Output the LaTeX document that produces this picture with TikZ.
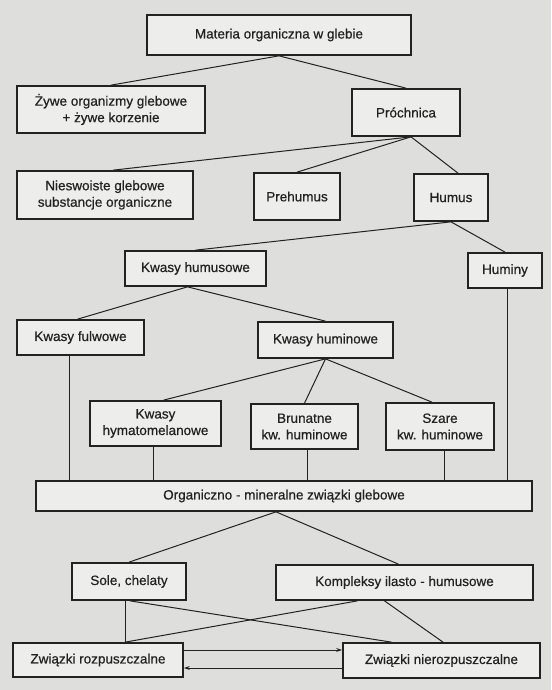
\documentclass[tikz,border=0pt]{standalone}
\usepackage{fontspec}
\setmainfont{Liberation Sans}
\newfontfamily\diafont{Liberation Sans}[FakeBold=0.6]
\usetikzlibrary{arrows.meta}
\definecolor{paper}{HTML}{DEDEDC}
\definecolor{boxfill}{HTML}{EDEDEB}
\definecolor{ink}{HTML}{222222}
\begin{document}
\begin{tikzpicture}[x=1pt,y=-1pt,
  box/.style={draw=ink, line width=1.7pt, fill=boxfill, inner sep=0pt, align=center,
    font=\diafont\fontsize{13.5}{16.5}\selectfont, text=ink},
  conn/.style={draw=ink, line width=1.0pt},
  tip/.style={-{Stealth[length=6pt,width=4pt]}}]
\fill[paper] (0,0) rectangle (551,690);
\useasboundingbox (0,0) rectangle (551,690);

\node[box, minimum width=264pt, minimum height=40pt] (mat) at (279,35) {Materia organiczna w glebie};
\node[box, minimum width=188pt, minimum height=47pt] (zyw) at (111,109.5) {Żywe organizmy glebowe\\+ żywe korzenie};
\node[box, minimum width=108pt, minimum height=47pt] (pro) at (406,112.5) {Próchnica};
\node[box, minimum width=176pt, minimum height=48pt] (nie) at (105,195) {Nieswoiste glebowe\\substancje organiczne};
\node[box, minimum width=86pt, minimum height=47pt] (pre) at (297,196.5) {Prehumus};
\node[box, minimum width=74pt, minimum height=47pt] (hum) at (451,197.5) {Humus};
\node[box, minimum width=141pt, minimum height=35pt] (kh) at (195.5,268.5) {Kwasy humusowe};
\node[box, minimum width=74pt, minimum height=35pt] (hmn) at (505,270.5) {Huminy};
\node[box, minimum width=127pt, minimum height=35pt] (kf) at (80.5,337.5) {Kwasy fulwowe};
\node[box, minimum width=135pt, minimum height=36pt] (khu) at (325.5,340) {Kwasy huminowe};
\node[box, minimum width=131pt, minimum height=45pt] (hym) at (155.5,423.5) {Kwasy\\hymatomelanowe};
\node[box, minimum width=107pt, minimum height=45pt] (bru) at (304.5,426.5) {Brunatne\\kw. huminowe};
\node[box, minimum width=108pt, minimum height=47pt] (sza) at (440,426.5) {Szare\\kw. huminowe};
\node[box, minimum width=496pt, minimum height=30pt] (org) at (284,496) {Organiczno - mineralne związki glebowe};
\node[box, minimum width=114pt, minimum height=37pt] (sol) at (129,581.5) {Sole, chelaty};
\node[box, minimum width=257pt, minimum height=35pt] (kom) at (404.5,582.5) {Kompleksy ilasto - humusowe};
\node[box, minimum width=170pt, minimum height=34pt] (roz) at (98,660) {Związki rozpuszczalne};
\node[box, minimum width=197pt, minimum height=35pt] (nir) at (441.5,660.5) {Związki nierozpuszczalne};

\draw[conn] (mat.south) -- (zyw.north);
\draw[conn] (mat.south) -- (pro.north);
\draw[conn] ([xshift=5pt]pro.south) -- ([xshift=8pt]nie.north);
\draw[conn] ([xshift=5pt]pro.south) -- (pre.north);
\draw[conn] ([xshift=5pt]pro.south) -- ([xshift=7pt]hum.north);
\draw[conn] (hum.south) -- (kh.north);
\draw[conn] (hum.south) -- (hmn.north);
\draw[conn] ([xshift=-8pt]kh.south) -- ([xshift=-3pt]kf.north);
\draw[conn] ([xshift=-8pt]kh.south) -- (khu.north);
\draw[conn] (khu.south) -- ([xshift=8pt]hym.north);
\draw[conn] (khu.south) -- (bru.north);
\draw[conn] (khu.south) -- ([xshift=-8pt]sza.north);

\draw[conn] ([xshift=-11pt]kf.south) -- ([xshift=-11pt]kf.south |- org.north);
\draw[conn] ([xshift=-2pt]hym.south) -- ([xshift=-2pt]hym.south |- org.north);
\draw[conn] ([xshift=3pt]bru.south) -- ([xshift=3pt]bru.south |- org.north);
\draw[conn] ([xshift=4pt]sza.south) -- ([xshift=4pt]sza.south |- org.north);
\draw[conn] ([xshift=2pt]hmn.south) -- ([xshift=2pt]hmn.south |- org.north);

\draw[conn] ([xshift=-8pt]org.south) -- (sol.north);
\draw[conn] ([xshift=-8pt]org.south) -- ([xshift=-6pt]kom.north);
\draw[conn] ([xshift=-4pt]sol.south) -- ([xshift=-4pt]sol.south |- roz.north);
\draw[conn] ([xshift=1pt]sol.south) -- ([xshift=-50pt]nir.north);
\draw[conn] ([xshift=-47pt]kom.south) -- ([xshift=27pt]roz.north);
\draw[conn] ([xshift=-20pt]kom.south) -- ([xshift=1.5pt]nir.north);

\coordinate (a1) at (0,650);
\coordinate (a2) at (0,668);
\draw[conn, tip] (roz.east |- a1) -- (nir.west |- a1);
\draw[conn, tip] (nir.west |- a2) -- (roz.east |- a2);
\end{tikzpicture}
\end{document}
